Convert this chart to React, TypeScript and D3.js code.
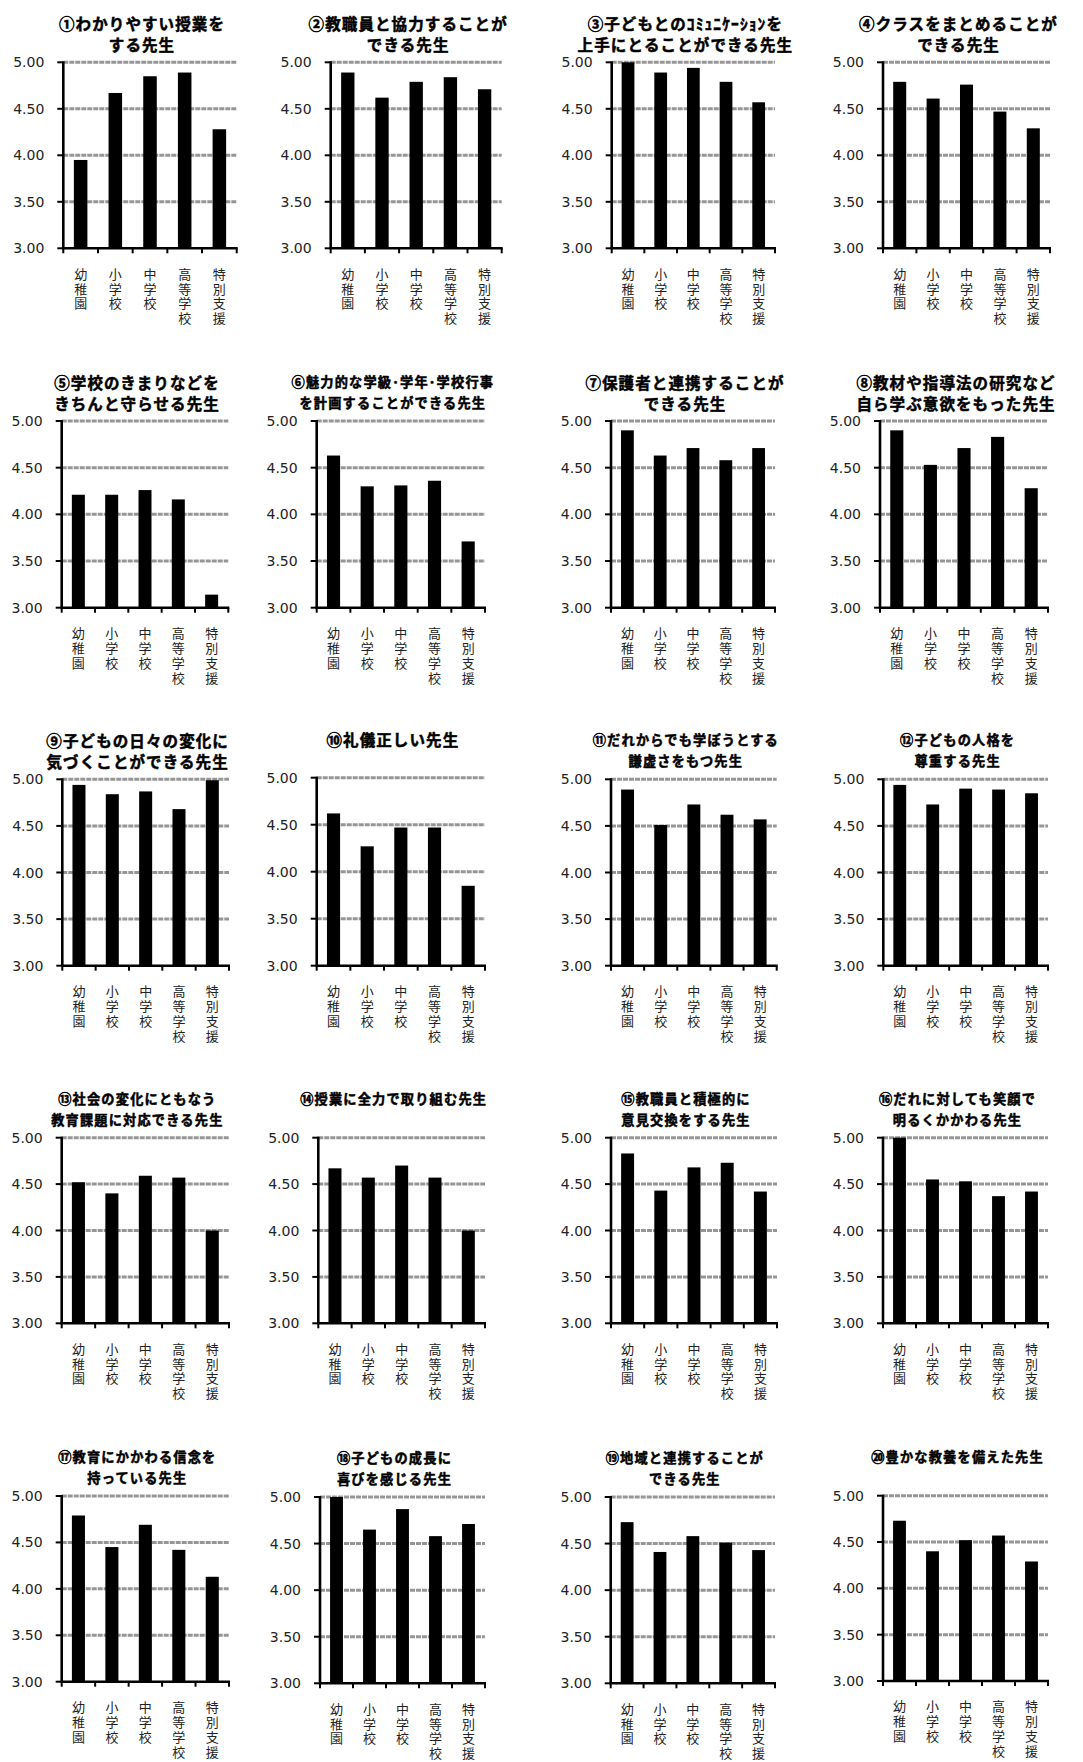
import React from "react";
import * as d3 from "d3";

// ---------- data ----------
const categories = ["幼稚園", "小学校", "中学校", "高等学校", "特別支援"];
const yTicks = [3.0, 3.5, 4.0, 4.5, 5.0];

const titles: string[][] = [
  ["①わかりやすい授業を", "する先生"],
  ["②教職員と協力することが", "できる先生"],
  ["③子どもとのｺﾐｭﾆｹｰｼｮﾝを", "上手にとることができる先生"],
  ["④クラスをまとめることが", "できる先生"],
  ["⑤学校のきまりなどを", "きちんと守らせる先生"],
  ["⑥魅力的な学級･学年･学校行事", "を計画することができる先生"],
  ["⑦保護者と連携することが", "できる先生"],
  ["⑧教材や指導法の研究など", "自ら学ぶ意欲をもった先生"],
  ["⑨子どもの日々の変化に", "気づくことができる先生"],
  ["⑩礼儀正しい先生"],
  ["⑪だれからでも学ぼうとする", "謙虚さをもつ先生"],
  ["⑫子どもの人格を", "尊重する先生"],
  ["⑬社会の変化にともなう", "教育課題に対応できる先生"],
  ["⑭授業に全力で取り組む先生"],
  ["⑮教職員と積極的に", "意見交換をする先生"],
  ["⑯だれに対しても笑顔で", "明るくかかわる先生"],
  ["⑰教育にかかわる信念を", "持っている先生"],
  ["⑱子どもの成長に", "喜びを感じる先生"],
  ["⑲地域と連携することが", "できる先生"],
  ["⑳豊かな教養を備えた先生"],
];

const scores01 = [3.95, 4.67, 4.85, 4.89, 4.28];
const scores02 = [4.89, 4.62, 4.79, 4.84, 4.71];
const scores03 = [5.0, 4.89, 4.94, 4.79, 4.57];
const scores04 = [4.79, 4.61, 4.76, 4.47, 4.29];
const scores05 = [4.21, 4.21, 4.26, 4.16, 3.14];
const scores06 = [4.63, 4.3, 4.31, 4.36, 3.71];
const scores07 = [4.9, 4.63, 4.71, 4.58, 4.71];
const scores08 = [4.9, 4.53, 4.71, 4.83, 4.28];
const scores09 = [4.94, 4.84, 4.87, 4.68, 4.99];
const scores10 = [4.62, 4.27, 4.47, 4.47, 3.85];
const scores11 = [4.89, 4.51, 4.73, 4.62, 4.57];
const scores12 = [4.94, 4.73, 4.9, 4.89, 4.85];
const scores13 = [4.52, 4.4, 4.59, 4.57, 4.0];
const scores14 = [4.67, 4.57, 4.7, 4.57, 4.0];
const scores15 = [4.83, 4.43, 4.68, 4.73, 4.42];
const scores16 = [5.0, 4.55, 4.53, 4.37, 4.42];
const scores17 = [4.79, 4.45, 4.69, 4.42, 4.13];
const scores18 = [5.0, 4.65, 4.87, 4.58, 4.71];
const scores19 = [4.73, 4.41, 4.58, 4.51, 4.43];
const scores20 = [4.73, 4.4, 4.52, 4.57, 4.29];

const allScores = [
  scores01, scores02, scores03, scores04, scores05,
  scores06, scores07, scores08, scores09, scores10,
  scores11, scores12, scores13, scores14, scores15,
  scores16, scores17, scores18, scores19, scores20,
];

// ---------- layout (panel frames: left axis x, right x, top y, bottom y) ----------
const frames: [number, number, number, number][] = [
  [63.3, 236.7, 62.3, 248.3],
  [330.7, 501.7, 62.3, 248.3],
  [611.7, 775, 62.3, 248.3],
  [883, 1050, 62.3, 248.3],
  [61.7, 228.3, 421, 607.7],
  [316.7, 485, 421, 607.7],
  [611, 775, 421, 607.7],
  [880, 1048, 421, 607.7],
  [62.3, 229, 779.3, 965.7],
  [316.7, 485, 777.7, 965.7],
  [611, 776.7, 779.3, 965.7],
  [883.3, 1048, 779.3, 965.7],
  [61.7, 229, 1137.7, 1323.3],
  [318.3, 485, 1137.7, 1323.3],
  [611, 777, 1137.7, 1323.3],
  [883, 1048, 1137.7, 1323.3],
  [61.7, 229, 1496, 1681.7],
  [320, 485, 1497, 1683.3],
  [610.7, 775, 1497, 1683.3],
  [883, 1048, 1495.7, 1681],
];

const smallTitle = new Set([5, 10, 11, 12, 13, 14, 15, 16, 17, 18, 19]);

const W = 1083;
const H = 1762;

function Panel({ idx }: { idx: number }) {
  const [x0, x1, yTop, yBot] = frames[idx];
  const values = allScores[idx];
  const title = titles[idx];

  const x = d3.scaleBand<string>().domain(categories).range([x0, x1]).paddingInner(0).paddingOuter(0);
  const y = d3.scaleLinear().domain([3, 5]).range([yBot, yTop]);
  const bw = x.bandwidth() * 0.39;
  const small = smallTitle.has(idx);
  const tSize = small ? 13.2 : 15.5;
  const tSpacing = small ? 1.2 : 1.1;
  const cx = (x0 + x1) / 2 - 8;
  const lineYs = title.length === 2 ? [yTop - 39.5, yTop - 18.5] : [yTop - 39];

  return (
    <g>
      {title.map((t, i) => (
        <text
          key={i}
          x={cx}
          y={lineYs[i]}
          textAnchor="middle"
          dominantBaseline="central"
          fontFamily="'Noto Sans CJK JP', sans-serif"
          fontWeight={700}
          fontSize={tSize}
          letterSpacing={tSpacing}
          fill="#000"
          stroke="#000"
          strokeWidth={0.5}
        >
          {t}
        </text>
      ))}
      {yTicks.filter((t) => t > 3).map((t) => (
        <line
          key={"g" + t}
          x1={x0}
          x2={x1}
          y1={y(t)}
          y2={y(t)}
          stroke="#969696"
          strokeWidth={3}
          strokeDasharray="5 1"
        />
      ))}
      {categories.map((c, i) => (
        <rect
          key={"b" + c}
          x={(x(c) as number) + x.bandwidth() / 2 - bw / 2}
          y={y(values[i])}
          width={bw}
          height={y(3) - y(values[i])}
          fill="#000"
        />
      ))}
      {yTicks.map((t) => (
        <g key={"t" + t}>
          <line x1={x0 - 6} x2={x0} y1={y(t)} y2={y(t)} stroke="#000" strokeWidth={2} />
          <text
            x={x0 - 19}
            y={y(t)}
            textAnchor="end"
            dominantBaseline="central"
            fontFamily="'DejaVu Sans', Verdana, sans-serif"
            fontSize={14}
            fill="#222"
          >
            {t.toFixed(2)}
          </text>
        </g>
      ))}
      <line x1={x0} x2={x0} y1={yTop - 1} y2={yBot + 1} stroke="#000" strokeWidth={2.6} />
      <line x1={x0 - 1} x2={x1 + 1} y1={yBot} y2={yBot} stroke="#000" strokeWidth={2.6} />
      {[...categories.map((c) => x(c) as number), x1].map((tx, i) => (
        <line key={"xt" + i} x1={tx} x2={tx} y1={yBot} y2={yBot + 5} stroke="#000" strokeWidth={2} />
      ))}
      {categories.map((c) => {
        const lx = (x(c) as number) + x.bandwidth() / 2;
        return (
          <text
            key={"l" + c}
            x={lx}
            y={yBot + 19}
            textAnchor="start"
            writingMode="vertical-rl"
            style={{ writingMode: "vertical-rl" } as React.CSSProperties}
            fontFamily="'Noto Sans CJK JP', sans-serif"
            fontSize={13}
            letterSpacing={1.8}
            fill="#222"
          >
            {c}
          </text>
        );
      })}
    </g>
  );
}

export default function App() {
  return (
    <div style={{ position: "absolute", left: 0, top: 0, width: W, height: H, overflow: "hidden", background: "#fff" }}>
      <svg width={W} height={H} viewBox={`0 0 ${W} ${H}`} style={{ display: "block" }}>
        <rect width={W} height={H} fill="#fff" />
        {frames.map((_, i) => (
          <Panel key={i} idx={i} />
        ))}
      </svg>
    </div>
  );
}
